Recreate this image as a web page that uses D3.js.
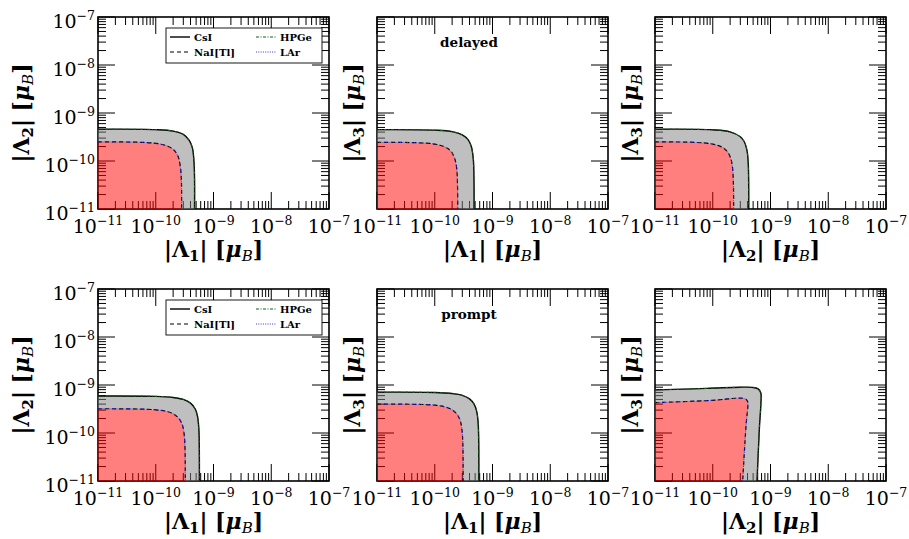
<!DOCTYPE html>
<html>
<head>
<meta charset="utf-8">
<script src="https://cdn.jsdelivr.net/npm/d3@7"></script>
<style>
body { margin: 0; background: #fff; }
text { font-family: "DejaVu Serif", "Liberation Serif", serif; }
</style>
</head>
<body>
<div id="chart"></div>
<script>
// axis decades shared by every panel
var tickExponents = [-11, -10, -9, -8, -7];
var rowLabels = ["delayed", "prompt"];
var xIndex = ["1", "1", "2"];
var yIndex = ["2", "3", "3"];
var legendNames = ["CsI", "NaI[Tl]", "HPGe", "LAr"];

// contours: [x, y] in mu_B
var delayedL1L2Outer = [[1e-11,4.6e-10],[1e-10,4.5e-10],[2e-10,4.2e-10],[3e-10,3.6e-10],[3.8e-10,2.7e-10],[4.3e-10,1.9e-10],[4.6e-10,9.5e-11],[4.7e-10,4e-11],[4.7e-10,1e-11]];
var delayedL1L2Inner = [[1e-11,2.5e-10],[5e-11,2.46e-10],[1e-10,2.33e-10],[1.5e-10,2.1e-10],[2e-10,1.75e-10],[2.4e-10,1.3e-10],[2.65e-10,8e-11],[2.78e-10,4e-11],[2.8e-10,1e-11]];
var delayedL1L3Outer = [[1e-11,4.5e-10],[1e-10,4.4e-10],[2e-10,4.1e-10],[3e-10,3.5e-10],[3.8e-10,2.75e-10],[4.3e-10,2e-10],[4.65e-10,1.1e-10],[4.78e-10,4e-11],[4.8e-10,1e-11]];
var delayedL1L3Inner = [[1e-11,2.45e-10],[5e-11,2.4e-10],[1e-10,2.25e-10],[1.5e-10,1.95e-10],[1.9e-10,1.6e-10],[2.2e-10,1.15e-10],[2.4e-10,7e-11],[2.48e-10,3e-11],[2.5e-10,1e-11]];
var delayedL2L3Outer = [[1e-11,4.6e-10],[1e-10,4.47e-10],[2e-10,4.05e-10],[3e-10,3.2e-10],[3.5e-10,2.55e-10],[3.9e-10,1.7e-10],[4.1e-10,1e-10],[4.18e-10,4.5e-11],[4.2e-10,1e-11]];
var delayedL2L3Inner = [[1e-11,2.5e-10],[5e-11,2.44e-10],[1e-10,2.25e-10],[1.5e-10,1.9e-10],[1.8e-10,1.55e-10],[2.05e-10,1.13e-10],[2.2e-10,7.3e-11],[2.28e-10,3.3e-11],[2.3e-10,1e-11]];
var promptL1L2Outer = [[1e-11,5.9e-10],[1e-10,5.8e-10],[2e-10,5.5e-10],[3e-10,5e-10],[4e-10,4.2e-10],[4.8e-10,3.2e-10],[5.3e-10,2.2e-10],[5.6e-10,1.1e-10],[5.68e-10,4.9e-11],[5.7e-10,1e-11]];
var promptL1L2Inner = [[1e-11,3.2e-10],[5e-11,3.16e-10],[1e-10,3.04e-10],[1.5e-10,2.84e-10],[2e-10,2.52e-10],[2.5e-10,2.04e-10],[2.85e-10,1.54e-10],[3.1e-10,9.6e-11],[3.22e-10,4.3e-11],[3.25e-10,1e-11]];
var promptL1L3Outer = [[1e-11,7.1e-10],[1e-10,7e-10],[2e-10,6.65e-10],[3e-10,6.1e-10],[4e-10,5.15e-10],[4.8e-10,4e-10],[5.3e-10,2.9e-10],[5.6e-10,1.85e-10],[5.75e-10,9e-11],[5.8e-10,1e-11]];
var promptL1L3Inner = [[1e-11,4e-10],[5e-11,3.95e-10],[1e-10,3.8e-10],[1.5e-10,3.5e-10],[2e-10,3.05e-10],[2.4e-10,2.5e-10],[2.75e-10,1.85e-10],[2.95e-10,1.2e-10],[3.07e-10,5.6e-11],[3.1e-10,1e-11]];
var promptL2L3Outer = [[1e-11,7.9e-10],[8e-11,8.5e-10],[3e-10,9e-10],[4.8e-10,8.9e-10],[6.1e-10,8.3e-10],[6.8e-10,6.8e-10],[6.8e-10,3.8e-10],[6.45e-10,1.4e-10],[5.85e-10,1e-11]];
var promptL2L3Inner = [[1e-11,4.3e-10],[1e-10,4.8e-10],[2.5e-10,5.3e-10],[3.3e-10,5.3e-10],[3.8e-10,5e-10],[4.05e-10,4.4e-10],[4.05e-10,3.5e-10],[3.8e-10,1.6e-10],[3.3e-10,1e-11]];

var panels = [
    {outer: delayedL1L2Outer, inner: delayedL1L2Inner},
    {outer: delayedL1L3Outer, inner: delayedL1L3Inner},
    {outer: delayedL2L3Outer, inner: delayedL2L3Inner},
    {outer: promptL1L2Outer, inner: promptL1L2Inner},
    {outer: promptL1L3Outer, inner: promptL1L3Inner},
    {outer: promptL2L3Outer, inner: promptL2L3Inner}
];

var colLeft = [98, 377, 655];
var rowTop = [17, 289];
var pw = 231, ph = 192;

var svg = d3.select("#chart").append("svg")
    .attr("width", 909)
    .attr("height", 539);

var majors = tickExponents.map(function(e){ return Math.pow(10, e); });
var minors = [];
tickExponents.slice(0, -1).forEach(function(e){
    for (var k = 2; k <= 9; k++) minors.push(k * Math.pow(10, e));
});
var allTicks = majors.map(function(v){ return {v: v, len: 17}; })
    .concat(minors.map(function(v){ return {v: v, len: 8}; }));

var lineStyles = {
    CsI:       {stroke: "#000", width: 1.4, dash: null},
    "NaI[Tl]": {stroke: "#000", width: 1.2, dash: "4,3"},
    HPGe:      {stroke: "#1d5a1d", width: 1, dash: "3,1.5,1,1.5"},
    LAr:       {stroke: "#3a3ad0", width: 1, dash: "1,1.3"}
};

panels.forEach(function(p, i){
    var row = Math.floor(i / 3), col = i % 3;
    var g = svg.append("g")
        .attr("transform", "translate(" + colLeft[col] + "," + rowTop[row] + ")");

    var sx = d3.scaleLog().domain([1e-11, 1e-7]).range([0, pw]);
    var sy = d3.scaleLog().domain([1e-11, 1e-7]).range([ph, 0]);

    // inward ticks on all four sides, one path per side
    var sides = [
        function(d){ return "M" + sx(d.v) + "," + ph + "v" + (-d.len); },
        function(d){ return "M" + sx(d.v) + ",0v" + d.len; },
        function(d){ return "M0," + sy(d.v) + "h" + d.len; },
        function(d){ return "M" + pw + "," + sy(d.v) + "h" + (-d.len); }
    ];
    sides.forEach(function(f){
        g.append("path")
            .attr("d", allTicks.map(f).join(""))
            .attr("fill", "none")
            .attr("stroke", "#000")
            .attr("stroke-width", 1);
    });

    g.append("rect")
        .attr("width", pw).attr("height", ph)
        .attr("fill", "none").attr("stroke", "#000").attr("stroke-width", 1.6);

    var contour = d3.line()
        .x(function(d){ return sx(d[0]); })
        .y(function(d){ return sy(d[1]); })
        .curve(d3.curveCatmullRom.alpha(0.5));
    var corner = "L" + sx(1e-11) + "," + sy(1e-11) + "Z";

    g.append("path")
        .attr("d", contour(p.outer) + corner + contour(p.inner) + corner)
        .attr("fill-rule", "evenodd")
        .attr("fill", "rgba(128,128,128,0.5)");
    g.append("path")
        .attr("d", contour(p.inner) + corner)
        .attr("fill", "rgba(255,0,0,0.5)");

    [["CsI", p.outer], ["HPGe", p.outer], ["NaI[Tl]", p.inner], ["LAr", p.inner]].forEach(function(c){
        var s = lineStyles[c[0]];
        g.append("path")
            .attr("d", contour(c[1]))
            .attr("fill", "none")
            .attr("stroke", s.stroke)
            .attr("stroke-width", s.width)
            .attr("stroke-dasharray", s.dash);
    });

    function powerLabel(t, j){
        t.append("tspan").text("10");
        t.append("tspan").attr("font-size", 12.5).attr("dy", -8).text("\u2212" + (-tickExponents[j]));
    }

    // x tick labels
    g.selectAll(".xlab").data(majors).enter().append("text")
        .attr("x", function(d){ return sx(d); })
        .attr("y", ph + 24)
        .attr("text-anchor", "middle")
        .attr("font-size", 19)
        .each(function(d, j){ powerLabel(d3.select(this), j); });

    // y tick labels only on the left column
    if (col === 0) {
        g.selectAll(".ylab").data(majors).enter().append("text")
            .attr("x", -3)
            .attr("y", function(d){ return sy(d) + 11; })
            .attr("text-anchor", "end")
            .attr("font-size", 19)
            .each(function(d, j){ powerLabel(d3.select(this), j); });
    }

    function axisTitle(t, idx){
        t.attr("font-size", 22).attr("font-weight", "bold");
        t.append("tspan").text("|\u039B");
        t.append("tspan").attr("font-size", 15).attr("dy", 4).text(idx);
        t.append("tspan").attr("dy", -4).text("|  [");
        t.append("tspan").attr("font-style", "italic").text("\u03BC");
        t.append("tspan").attr("font-size", 15).attr("font-style", "italic").attr("font-weight", "normal").attr("dy", 4).text("B");
        t.append("tspan").attr("dy", -4).text("]");
    }
    axisTitle(g.append("text")
        .attr("x", pw / 2).attr("y", ph + 48)
        .attr("text-anchor", "middle"), xIndex[col]);

    var yOff = col === 0 ? -69 : -17;
    axisTitle(g.append("text")
        .attr("transform", "translate(" + yOff + "," + (ph / 2) + ") rotate(-90)")
        .attr("text-anchor", "middle"), yIndex[col]);

    if (col === 1) {
        g.append("text")
            .attr("x", 92).attr("y", 30)
            .attr("text-anchor", "middle")
            .attr("font-size", 13.5)
            .attr("font-weight", "bold")
            .text(rowLabels[row]);
    }

    if (col === 0) {
        var lg = g.append("g").attr("transform", "translate(68,11)");
        lg.append("rect")
            .attr("width", 156).attr("height", 35)
            .attr("fill", "#fff").attr("stroke", "#000").attr("stroke-width", 0.9);
        legendNames.forEach(function(name, k){
            var s = lineStyles[name];
            var lx = k < 2 ? 4 : 90, ly = k % 2 === 0 ? 9 : 24;
            lg.append("line")
                .attr("x1", lx).attr("x2", lx + 20)
                .attr("y1", ly).attr("y2", ly)
                .attr("stroke", s.stroke)
                .attr("stroke-width", s.width)
                .attr("stroke-dasharray", s.dash);
            lg.append("text")
                .attr("x", lx + 24).attr("y", ly + 3.5)
                .attr("font-size", 10)
                .attr("font-weight", "bold")
                .text(name);
        });
    }
});
</script>
</body>
</html>
